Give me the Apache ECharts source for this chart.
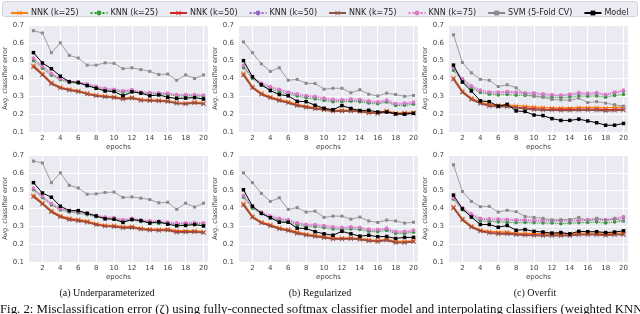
<!DOCTYPE html>
<html>
<head>
<meta charset="utf-8">
<script src="https://cdn.jsdelivr.net/npm/echarts@6/dist/echarts.min.js"></script>
<style>html,body{margin:0;padding:0;background:#fff}#c{width:640px;height:314px}</style>
</head>
<body>
<div id="c"></div>
<script>
const epochs = [1,2,3,4,5,6,7,8,9,10,11,12,13,14,15,16,17,18,19,20];
const seriesNames = ['NNK (k=25)','KNN (k=25)','NNK (k=50)','KNN (k=50)','NNK (k=75)','KNN (k=75)','SVM (5-Fold CV)','Model'];
const xTickValues = [2,4,6,8,10,12,14,16,18,20];
const captions = ['(a) Underparameterized','(b) Regularized','(c) Overfit'];
const figCaption = 'Fig. 2: Misclassification error (\u03B6) using fully-connected softmax classifier model and interpolating classifiers (weighted KNN';

// (a) Underparameterized, top row
const nnk25_a1 = [0.475,0.428,0.378,0.352,0.340,0.332,0.318,0.308,0.302,0.298,0.290,0.295,0.282,0.280,0.278,0.275,0.265,0.262,0.268,0.262];
const knn25_a1 = [0.500,0.458,0.418,0.393,0.378,0.373,0.362,0.348,0.333,0.333,0.322,0.330,0.318,0.315,0.312,0.310,0.302,0.302,0.302,0.300];
const nnk50_a1 = [0.468,0.422,0.373,0.348,0.336,0.328,0.314,0.304,0.298,0.294,0.286,0.291,0.279,0.277,0.275,0.272,0.262,0.259,0.264,0.259];
const knn50_a1 = [0.510,0.465,0.425,0.397,0.382,0.377,0.367,0.353,0.342,0.337,0.329,0.335,0.322,0.319,0.317,0.315,0.307,0.307,0.307,0.305];
const nnk75_a1 = [0.465,0.420,0.370,0.346,0.334,0.326,0.312,0.302,0.296,0.292,0.284,0.289,0.277,0.275,0.273,0.270,0.260,0.257,0.262,0.257];
const knn75_a1 = [0.515,0.470,0.430,0.400,0.385,0.380,0.370,0.357,0.345,0.340,0.332,0.338,0.325,0.322,0.320,0.318,0.310,0.310,0.310,0.308];
const svm_a1   = [0.668,0.655,0.545,0.600,0.530,0.515,0.475,0.475,0.488,0.485,0.455,0.460,0.450,0.440,0.422,0.425,0.390,0.420,0.400,0.420];
const model_a1 = [0.545,0.487,0.455,0.413,0.382,0.378,0.360,0.345,0.330,0.327,0.303,0.325,0.318,0.303,0.308,0.295,0.288,0.290,0.293,0.285];

// (b) Regularized, top row
const nnk25_b1 = [0.430,0.355,0.318,0.298,0.283,0.272,0.255,0.245,0.237,0.230,0.222,0.222,0.222,0.220,0.212,0.208,0.220,0.205,0.208,0.210];
const knn25_b1 = [0.460,0.400,0.362,0.342,0.325,0.312,0.302,0.292,0.285,0.277,0.270,0.270,0.272,0.270,0.262,0.258,0.268,0.248,0.250,0.255];
const nnk50_b1 = [0.422,0.350,0.313,0.293,0.278,0.265,0.250,0.240,0.232,0.225,0.218,0.218,0.218,0.216,0.208,0.205,0.215,0.202,0.205,0.206];
const knn50_b1 = [0.470,0.405,0.370,0.350,0.335,0.320,0.310,0.300,0.295,0.285,0.278,0.278,0.280,0.278,0.270,0.265,0.275,0.255,0.258,0.263];
const nnk75_b1 = [0.418,0.347,0.310,0.290,0.275,0.262,0.247,0.237,0.230,0.223,0.216,0.216,0.216,0.214,0.206,0.203,0.213,0.200,0.203,0.204];
const knn75_b1 = [0.475,0.410,0.375,0.355,0.340,0.325,0.315,0.305,0.300,0.290,0.283,0.282,0.285,0.283,0.275,0.270,0.280,0.260,0.263,0.268];
const svm_b1   = [0.605,0.545,0.482,0.440,0.460,0.390,0.395,0.373,0.372,0.340,0.345,0.345,0.320,0.337,0.312,0.302,0.318,0.310,0.300,0.305];
const model_b1 = [0.500,0.410,0.365,0.332,0.310,0.303,0.272,0.270,0.250,0.233,0.225,0.248,0.232,0.220,0.222,0.212,0.212,0.202,0.200,0.205];

// (c) Overfit, top row
const nnk25_c1 = [0.405,0.330,0.290,0.268,0.255,0.252,0.252,0.248,0.245,0.240,0.238,0.235,0.235,0.235,0.238,0.238,0.238,0.235,0.238,0.240];
const knn25_c1 = [0.445,0.385,0.345,0.322,0.312,0.308,0.310,0.306,0.305,0.302,0.298,0.295,0.293,0.296,0.302,0.300,0.302,0.295,0.305,0.310];
const nnk50_c1 = [0.398,0.325,0.285,0.262,0.248,0.245,0.245,0.238,0.235,0.230,0.228,0.227,0.226,0.226,0.228,0.228,0.228,0.225,0.226,0.228];
const knn50_c1 = [0.455,0.395,0.355,0.330,0.320,0.320,0.322,0.320,0.315,0.315,0.310,0.305,0.303,0.308,0.315,0.312,0.316,0.306,0.320,0.328];
const nnk75_c1 = [0.395,0.322,0.282,0.260,0.245,0.242,0.242,0.235,0.230,0.225,0.222,0.222,0.220,0.220,0.222,0.222,0.222,0.218,0.220,0.222];
const knn75_c1 = [0.460,0.400,0.360,0.335,0.325,0.325,0.328,0.325,0.320,0.320,0.315,0.310,0.308,0.313,0.322,0.318,0.322,0.312,0.325,0.335];
const svm_c1   = [0.645,0.490,0.432,0.395,0.390,0.355,0.365,0.348,0.310,0.300,0.295,0.282,0.280,0.278,0.290,0.265,0.270,0.262,0.253,0.245];
const model_c1 = [0.475,0.380,0.330,0.275,0.270,0.245,0.255,0.218,0.215,0.195,0.192,0.175,0.165,0.165,0.172,0.162,0.152,0.138,0.138,0.148];

// (a) Underparameterized, bottom row
const nnk25_a2 = [0.475,0.432,0.388,0.360,0.345,0.338,0.330,0.315,0.307,0.305,0.298,0.300,0.290,0.285,0.282,0.285,0.275,0.275,0.275,0.270];
const knn25_a2 = [0.505,0.460,0.420,0.392,0.380,0.375,0.365,0.354,0.345,0.340,0.330,0.337,0.327,0.322,0.316,0.318,0.312,0.312,0.314,0.312];
const nnk50_a2 = [0.468,0.427,0.383,0.355,0.340,0.333,0.325,0.310,0.302,0.300,0.293,0.295,0.285,0.280,0.278,0.280,0.270,0.270,0.270,0.266];
const knn50_a2 = [0.510,0.465,0.426,0.396,0.384,0.379,0.369,0.358,0.349,0.345,0.334,0.341,0.331,0.328,0.326,0.321,0.316,0.316,0.318,0.316];
const nnk75_a2 = [0.465,0.425,0.380,0.352,0.337,0.330,0.322,0.308,0.300,0.298,0.290,0.292,0.283,0.278,0.276,0.278,0.265,0.267,0.268,0.264];
const knn75_a2 = [0.515,0.470,0.430,0.400,0.388,0.383,0.373,0.362,0.353,0.349,0.338,0.345,0.335,0.332,0.330,0.325,0.320,0.320,0.322,0.320];
const svm_a2   = [0.666,0.655,0.545,0.600,0.530,0.515,0.480,0.482,0.490,0.492,0.462,0.465,0.458,0.450,0.432,0.435,0.395,0.430,0.408,0.430];
const model_a2 = [0.545,0.487,0.463,0.413,0.388,0.388,0.373,0.358,0.342,0.340,0.322,0.338,0.332,0.318,0.325,0.312,0.303,0.305,0.310,0.302];

// (b) Regularized, bottom row
const nnk25_b2 = [0.430,0.358,0.325,0.310,0.292,0.283,0.268,0.257,0.250,0.243,0.235,0.235,0.235,0.232,0.225,0.220,0.228,0.215,0.215,0.220];
const knn25_b2 = [0.463,0.402,0.370,0.348,0.333,0.325,0.308,0.300,0.298,0.292,0.285,0.282,0.285,0.282,0.272,0.270,0.277,0.260,0.260,0.267];
const nnk50_b2 = [0.422,0.352,0.320,0.305,0.287,0.278,0.263,0.252,0.245,0.238,0.230,0.230,0.232,0.228,0.220,0.216,0.224,0.210,0.210,0.215];
const knn50_b2 = [0.470,0.408,0.376,0.355,0.340,0.333,0.316,0.308,0.306,0.300,0.293,0.290,0.293,0.290,0.280,0.278,0.285,0.267,0.267,0.275];
const nnk75_b2 = [0.418,0.350,0.318,0.302,0.285,0.275,0.260,0.250,0.243,0.236,0.228,0.228,0.230,0.226,0.218,0.214,0.222,0.208,0.208,0.213];
const knn75_b2 = [0.475,0.412,0.380,0.360,0.345,0.338,0.320,0.312,0.310,0.305,0.298,0.295,0.298,0.295,0.285,0.283,0.290,0.272,0.272,0.280];
const svm_b2   = [0.600,0.545,0.485,0.440,0.460,0.395,0.405,0.380,0.385,0.350,0.357,0.357,0.340,0.352,0.330,0.322,0.335,0.330,0.318,0.323];
const model_b2 = [0.505,0.413,0.373,0.348,0.323,0.323,0.290,0.288,0.270,0.258,0.250,0.272,0.258,0.245,0.250,0.242,0.243,0.232,0.238,0.238];

// (c) Overfit, bottom row
const nnk25_c2 = [0.410,0.343,0.302,0.280,0.272,0.268,0.268,0.262,0.260,0.260,0.258,0.258,0.258,0.258,0.262,0.262,0.262,0.260,0.262,0.262];
const knn25_c2 = [0.452,0.393,0.355,0.330,0.328,0.325,0.323,0.320,0.322,0.320,0.318,0.318,0.315,0.318,0.320,0.322,0.325,0.318,0.325,0.330];
const nnk50_c2 = [0.405,0.338,0.297,0.275,0.265,0.260,0.260,0.256,0.253,0.252,0.250,0.250,0.250,0.250,0.255,0.255,0.255,0.252,0.255,0.256];
const knn50_c2 = [0.455,0.400,0.365,0.340,0.337,0.337,0.335,0.333,0.333,0.330,0.330,0.330,0.330,0.330,0.332,0.335,0.337,0.333,0.340,0.350];
const nnk75_c2 = [0.402,0.335,0.295,0.272,0.262,0.257,0.257,0.253,0.250,0.248,0.247,0.247,0.247,0.247,0.252,0.252,0.252,0.248,0.252,0.253];
const knn75_c2 = [0.460,0.405,0.370,0.345,0.342,0.342,0.340,0.338,0.338,0.335,0.335,0.335,0.335,0.335,0.337,0.340,0.342,0.338,0.345,0.355];
const svm_c2   = [0.645,0.495,0.440,0.410,0.412,0.380,0.390,0.382,0.355,0.350,0.345,0.335,0.337,0.338,0.350,0.330,0.345,0.335,0.342,0.330];
const model_c2 = [0.475,0.398,0.352,0.310,0.310,0.295,0.305,0.278,0.282,0.272,0.268,0.262,0.265,0.258,0.272,0.270,0.270,0.265,0.268,0.275];

const panels = [
  [nnk25_a1,knn25_a1,nnk50_a1,knn50_a1,nnk75_a1,knn75_a1,svm_a1,model_a1],
  [nnk25_b1,knn25_b1,nnk50_b1,knn50_b1,nnk75_b1,knn75_b1,svm_b1,model_b1],
  [nnk25_c1,knn25_c1,nnk50_c1,knn50_c1,nnk75_c1,knn75_c1,svm_c1,model_c1],
  [nnk25_a2,knn25_a2,nnk50_a2,knn50_a2,nnk75_a2,knn75_a2,svm_a2,model_a2],
  [nnk25_b2,knn25_b2,nnk50_b2,knn50_b2,nnk75_b2,knn75_b2,svm_b2,model_b2],
  [nnk25_c2,knn25_c2,nnk50_c2,knn50_c2,nnk75_c2,knn75_c2,svm_c2,model_c2]
];

const X = 'path://M0,1 L1,0 L5,4 L9,0 L10,1 L6,5 L10,9 L9,10 L5,6 L1,10 L0,9 L4,5 Z';
const styles = [
  {color:'#ff7f0e', symbol:X, size:4.5, type:'solid', width:1.4},
  {color:'#2ca02c', symbol:'circle', size:3.5, type:'dotted', width:1},
  {color:'#d62728', symbol:X, size:4.5, type:'solid', width:1.4},
  {color:'#9467bd', symbol:'circle', size:3.5, type:'dotted', width:1},
  {color:'#8c564b', symbol:X, size:4.5, type:'solid', width:1.4},
  {color:'#e377c2', symbol:'circle', size:3.5, type:'dotted', width:1},
  {color:'#8a8a8a', symbol:'rect', size:3, type:'solid', width:0.8},
  {color:'#000000', symbol:'rect', size:3.5, type:'solid', width:1}
];

const lefts = [29, 239, 449];
const tops = [25, 155];
const W = 179, H = 107;

const grid = [], xAxis = [], yAxis = [], series = [];
const font = 'DejaVu Sans';
panels.forEach((p, gi) => {
  const col = gi % 3, row = Math.floor(gi / 3);
  grid.push({left: lefts[col], top: tops[row], width: W, height: H,
    show: true, backgroundColor: '#eaeaf2', borderWidth: 0});
  xAxis.push({gridIndex: gi, type: 'value', min: 0.5, max: 20.5,
    axisLine: {show: false},
    axisTick: {show: false, customValues: xTickValues},
    axisLabel: {customValues: xTickValues, fontSize: 7, color: '#444', margin: 3, fontFamily: font},
    splitLine: {show: true, lineStyle: {color: '#ffffff', width: 1}},
    name: 'epochs', nameLocation: 'middle', nameGap: 12,
    nameTextStyle: {fontSize: 7, color: '#444', fontFamily: font}});
  yAxis.push({gridIndex: gi, type: 'value', min: 0.1, max: 0.7, interval: 0.1,
    axisLine: {show: false}, axisTick: {show: false},
    axisLabel: {fontSize: 7, color: '#444', margin: 5, fontFamily: font, formatter: v => v.toFixed(1)},
    splitLine: {show: true, lineStyle: {color: '#ffffff', width: 1}},
    name: 'Avg. classifier error', nameLocation: 'middle', nameGap: 16, nameRotate: 90,
    nameTextStyle: {fontSize: 6.5, color: '#444', fontFamily: font}});
  // shaded band around KNN curves (polygon through the axis scales)
  const bandData = epochs.map((e, i) => [e,
    Math.min(p[1][i], p[3][i], p[5][i]) - 0.007,
    Math.max(p[1][i], p[3][i], p[5][i]) + 0.007]);
  series.push({name: 'band' + gi, type: 'custom', xAxisIndex: gi, yAxisIndex: gi,
    data: bandData, silent: true, z: 1,
    renderItem: (params, api) => {
      if (params.dataIndex !== 0) return null;
      const top = bandData.map(d => api.coord([d[0], d[2]]));
      const bot = bandData.slice().reverse().map(d => api.coord([d[0], d[1]]));
      return {type: 'polygon', shape: {points: top.concat(bot)},
        style: {fill: 'rgba(225,140,210,0.18)'}};
    }});
  p.forEach((vals, si) => {
    const s = styles[si];
    series.push({name: seriesNames[si], type: 'line', xAxisIndex: gi, yAxisIndex: gi,
      data: epochs.map((e, i) => [e, vals[i]]),
      symbol: s.symbol, symbolSize: s.size, showSymbol: true,
      itemStyle: {color: s.color},
      lineStyle: {color: s.color, width: s.width, type: s.type},
      animation: false, z: 2 + si});
  });
});

const graphic = [
  {type: 'rect', shape: {x: 2.5, y: 1.5, width: 635, height: 15, r: 2}, z: -10,
   style: {fill: '#ebebf3', stroke: '#d2d2da', lineWidth: 1}}
];
const capX = [107, 320, 535];
captions.forEach((c, i) => graphic.push({type: 'text', x: capX[i], y: 293,
  style: {text: c, font: '10px "Liberation Serif"', fill: '#111', textAlign: 'center', textVerticalAlign: 'middle'}}));
graphic.push({type: 'text', x: 0, y: 303,
  style: {text: figCaption, font: '12.8px "Liberation Serif"', fill: '#111', textAlign: 'left', textVerticalAlign: 'top'}});

const chart = echarts.init(document.getElementById('c'), null, {renderer: 'canvas'});
chart.setOption({
  animation: false,
  legend: {data: seriesNames, top: 4, left: 5, right: 0, itemWidth: 17, itemHeight: 6, itemGap: 11, z: 10,
    textStyle: {fontSize: 8, color: '#262626', fontFamily: font, padding: [0,0,0,-2]}},
  grid, xAxis, yAxis, series, graphic
});
</script>
</body>
</html>
